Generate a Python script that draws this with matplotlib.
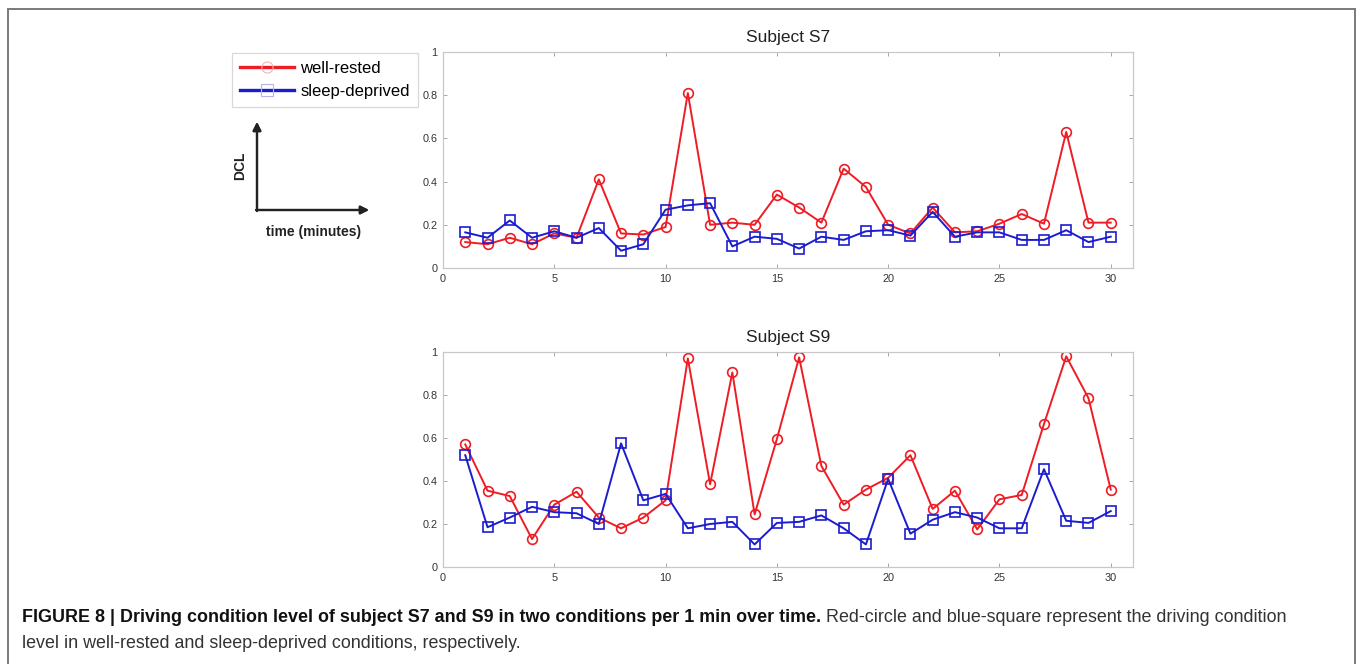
import matplotlib
matplotlib.use("Agg")
import matplotlib.pyplot as plt
from matplotlib.lines import Line2D
from matplotlib.patches import Rectangle

# data (DCL per minute)
minutes = list(range(1, 31))
s7_rested = [0.12, 0.11, 0.14, 0.11, 0.16, 0.14, 0.41, 0.16, 0.155, 0.19,
             0.81, 0.20, 0.21, 0.20, 0.34, 0.28, 0.21, 0.46, 0.375, 0.20,
             0.16, 0.28, 0.165, 0.17, 0.205, 0.25, 0.205, 0.63, 0.21, 0.21]
s7_deprived = [0.165, 0.14, 0.22, 0.14, 0.17, 0.14, 0.185, 0.08, 0.11, 0.27,
               0.29, 0.30, 0.10, 0.145, 0.135, 0.09, 0.145, 0.13, 0.17, 0.175,
               0.15, 0.26, 0.145, 0.165, 0.165, 0.13, 0.13, 0.175, 0.12, 0.145]
s9_rested = [0.57, 0.355, 0.33, 0.13, 0.29, 0.35, 0.23, 0.18, 0.23, 0.31,
             0.97, 0.385, 0.905, 0.245, 0.595, 0.975, 0.47, 0.29, 0.36, 0.415,
             0.52, 0.27, 0.355, 0.175, 0.315, 0.335, 0.665, 0.98, 0.785, 0.36]
s9_deprived = [0.52, 0.185, 0.23, 0.28, 0.255, 0.25, 0.20, 0.575, 0.31, 0.34,
               0.18, 0.20, 0.21, 0.105, 0.205, 0.21, 0.24, 0.18, 0.105, 0.41,
               0.155, 0.22, 0.255, 0.23, 0.18, 0.18, 0.455, 0.215, 0.205, 0.26]

xticks = [0, 5, 10, 15, 20, 25, 30]
yticks = [0, 0.2, 0.4, 0.6, 0.8, 1]
ytick_labels = ["0", "0.2", "0.4", "0.6", "0.8", "1"]

RED = "#ee1c24"
BLUE = "#1c1ccf"
W, H = 1358, 664

plt.rcParams['font.family'] = ['Liberation Sans', 'DejaVu Sans']

fig = plt.figure(figsize=(W / 100, H / 100), dpi=100)


def fx(x):
    return x / W


def fy(y):
    return 1 - y / H


def panel(top, bottom, title, rested, deprived):
    ax = fig.add_axes([fx(443), fy(bottom), fx(1133 - 443), (bottom - top) / H])
    ax.plot(minutes, rested, color=RED, lw=1.4, marker='o', ms=7,
            mfc='none', mec=RED, mew=1.2)
    ax.plot(minutes, deprived, color=BLUE, lw=1.4, marker='s', ms=7,
            mfc='none', mec=BLUE, mew=1.2)
    ax.set_xlim(0, 31)
    ax.set_ylim(0, 1)
    ax.set_xticks(xticks)
    ax.set_yticks(yticks)
    ax.set_yticklabels(ytick_labels)
    ax.tick_params(direction='in', length=3, width=0.6, color='#999999',
                   labelsize=7.8, labelcolor='#333333', top=True, right=True, pad=4)
    for s in ax.spines.values():
        s.set_color('#c8c8c8')
        s.set_linewidth(0.9)
    ax.set_title(title, fontsize=12.5, color='#222222', pad=7)
    return ax


ax1 = panel(52, 268, "Subject S7", s7_rested, s7_deprived)
ax2 = panel(352, 567, "Subject S9", s9_rested, s9_deprived)

# legend
handles = [
    Line2D([], [], color=RED, lw=2.4, marker='o', ms=8, mfc='none', mec='#f6b4b4', mew=0.8),
    Line2D([], [], color=BLUE, lw=2.4, marker='s', ms=8, mfc='none', mec='#b4b4f0', mew=0.8),
]
leg = fig.legend(handles, ["well-rested", "sleep-deprived"], loc='upper left',
                 bbox_to_anchor=(fx(232), fy(53)), frameon=True, fancybox=False,
                 fontsize=12, handlelength=3.2, handletextpad=0.4,
                 borderpad=0.5, labelspacing=0.45, borderaxespad=0)
leg.get_frame().set_edgecolor('#cfcfcf')
leg.get_frame().set_linewidth(0.9)

# axis schematic
arrow = dict(arrowstyle='-|>', color='#222222', lw=1.6, mutation_scale=12,
             shrinkA=0, shrinkB=0)
fig.add_artist(plt.annotate("", xy=(fx(369), fy(210)), xytext=(fx(256), fy(210)),
                            xycoords='figure fraction', arrowprops=arrow))
fig.add_artist(plt.annotate("", xy=(fx(257), fy(122)), xytext=(fx(257), fy(211)),
                            xycoords='figure fraction', arrowprops=arrow))
fig.text(fx(240), fy(166), "DCL", rotation=90, ha='center', va='center',
         fontsize=10, fontweight='bold', color='#222222')
fig.text(fx(314), fy(232), "time (minutes)", ha='center', va='center',
         fontsize=10, fontweight='bold', color='#222222')

# outer frame
fig.add_artist(Rectangle((fx(8), fy(700)), fx(1355 - 8), (700 - 9) / H,
                         transform=fig.transFigure, fill=False,
                         edgecolor='#7a7a7a', lw=1.4))

# caption
cap_font = ['Liberation Sans Narrow', 'Liberation Sans', 'DejaVu Sans']
t1 = fig.text(fx(22), fy(617), "FIGURE 8 | Driving condition level of subject S7 and S9 "
              "in two conditions per 1 min over time.", ha='left', va='center',
              fontsize=12.9, fontweight='bold', family=cap_font, color='#111111')
fig.canvas.draw()
bb = t1.get_window_extent()
fig.text(bb.x1 / W + fx(5), fy(617), "Red-circle and blue-square represent the driving condition",
         ha='left', va='center', fontsize=12.9, family=cap_font, color='#333333')
fig.text(fx(22), fy(643), "level in well-rested and sleep-deprived conditions, respectively.",
         ha='left', va='center', fontsize=12.9, family=cap_font, color='#333333')

fig.savefig("out.png", dpi=100)
